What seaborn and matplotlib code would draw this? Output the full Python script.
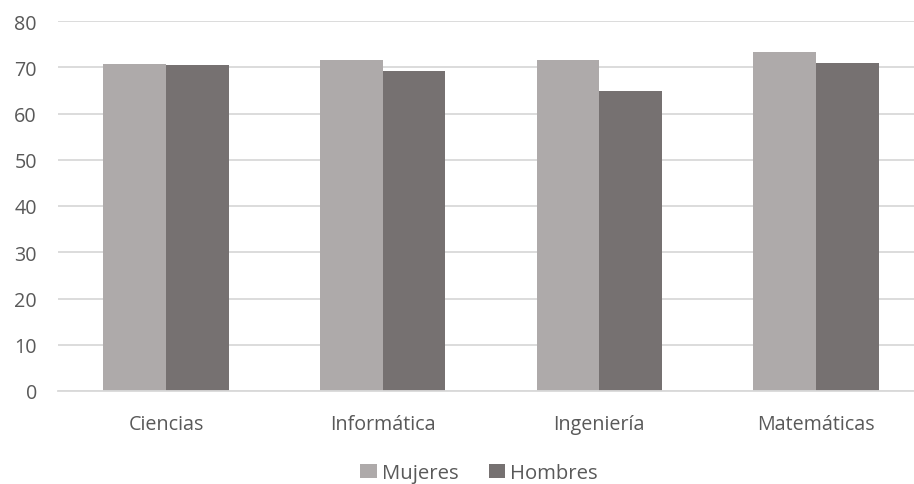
import matplotlib
matplotlib.use("Agg")
import matplotlib.pyplot as plt
import seaborn as sns
import pandas as pd

categories = ["Ciencias", "Informática", "Ingeniería", "Matemáticas"]
mujeres = [70.7, 71.5, 71.5, 73.2]
hombres = [70.5, 69.2, 64.9, 70.9]
series_names = ["Mujeres", "Hombres"]
colors = ["#AEAAAA", "#767171"]
y_ticks = [0, 10, 20, 30, 40, 50, 60, 70, 80]

df = pd.DataFrame({
    "Área": categories * 2,
    "Valor": mujeres + hombres,
    "Serie": [series_names[0]] * len(categories) + [series_names[1]] * len(categories),
})

sns.set_style("white")
plt.rcParams["font.family"] = ["Open Sans", "DejaVu Sans"]

W, H = 914, 485
fig = plt.figure(figsize=(W / 100, H / 100), dpi=100)
# plot area runs slightly past the right edge of the canvas
left, right, bottom, top = 57.6, 924.4, 392, 22
ax = fig.add_axes([left / W, 1 - bottom / H, (right - left) / W, (bottom - top) / H])

sns.barplot(data=df, x="Área", y="Valor", hue="Serie", palette=colors,
            width=0.578, gap=0, saturation=1, linewidth=0, ax=ax, legend=True)

ax.set_ylim(0, 80)
ax.set_yticks(y_ticks)
ax.set_xlim(-0.5, len(categories) - 0.5)
ax.yaxis.grid(True, color="#D9D9D9", linewidth=1.3)
ax.set_axisbelow(True)
for s in ["top", "right", "left"]:
    ax.spines[s].set_visible(False)
ax.spines["bottom"].set_color("#D9D9D9")
ax.spines["bottom"].set_linewidth(1.3)
ax.tick_params(axis="both", length=0, labelsize=14.2, labelcolor="#595959")
ax.tick_params(axis="y", pad=15)
ax.tick_params(axis="x", pad=16.5)
ax.set_xlabel("")
ax.set_ylabel("")

handles, labels = ax.get_legend_handles_labels()
ax.legend_.remove()
fig.legend(handles, labels, loc="center", bbox_to_anchor=(479 / W, 1 - 474 / H),
           ncol=2, frameon=False, fontsize=14.6, labelcolor="#595959",
           handlelength=0.8, handleheight=0.7, handletextpad=0.25, columnspacing=1.5)

fig.savefig("out.png", dpi=100)
